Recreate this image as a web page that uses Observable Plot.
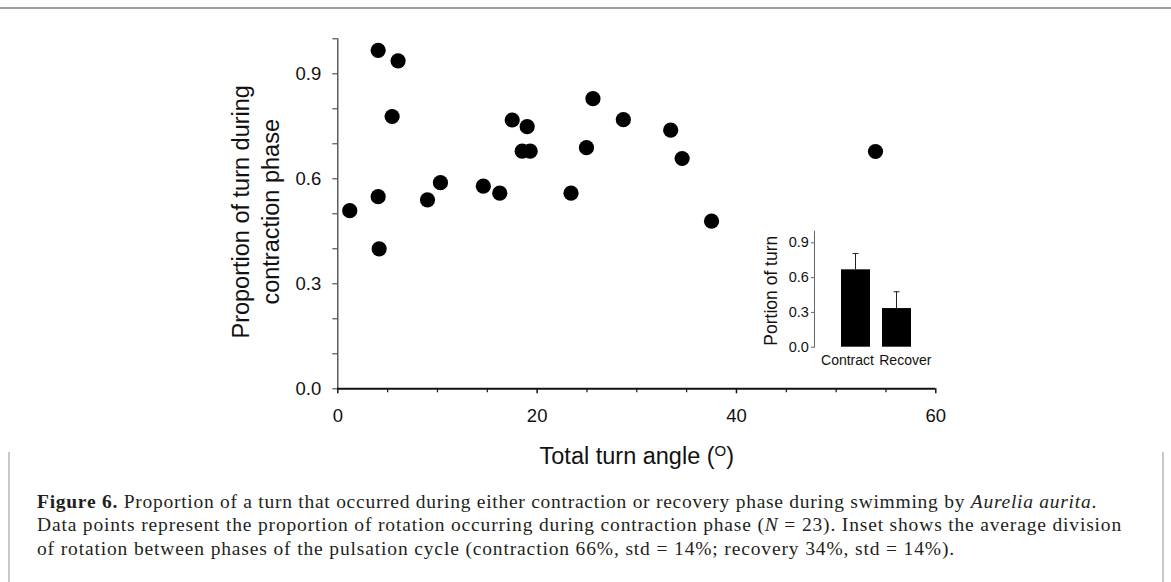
<!DOCTYPE html>
<html>
<head>
<meta charset="utf-8">
<script src="https://cdn.jsdelivr.net/npm/d3@7"></script>
<script src="https://cdn.jsdelivr.net/npm/@observablehq/plot@0.6"></script>
<style>
  html, body { margin: 0; padding: 0; background: #fff; width: 1171px; height: 582px; overflow: hidden; }
  #wrap { position: relative; width: 1171px; height: 582px; }
  #main { position: absolute; left: 0; top: 0; }
  #inset { position: absolute; left: 740px; top: 220px; }
  .rule-top { position: absolute; left: 0; top: 7px; width: 1171px; height: 2px; background: #9e9e9e; }
  .border-l { position: absolute; left: 8px; top: 452px; width: 2px; height: 130px; background: #c9c9c9; }
  .border-r { position: absolute; left: 1162px; top: 452px; width: 2px; height: 130px; background: #c9c9c9; }
  #caption { position: absolute; left: 37px; top: 490px; font-family: "Liberation Serif", "DejaVu Serif", serif;
             font-size: 19.5px; line-height: 23.3px; color: #231f20; }
  #caption .line { white-space: nowrap; }
  #caption .line span { white-space: nowrap; }
</style>
</head>
<body>
<div id="wrap">
  <div class="rule-top"></div>
  <div class="border-l"></div>
  <div class="border-r"></div>
  <div id="main"></div>
  <div id="inset"></div>
  <div id="caption">
    <div class="line"><span id="c1"><b>Figure 6.</b> Proportion of a turn that occurred during either contraction or recovery phase during swimming by <i>Aurelia aurita</i>.</span></div>
    <div class="line"><span id="c2">Data points represent the proportion of rotation occurring during contraction phase (<i>N</i> = 23). Inset shows the average division</span></div>
    <div class="line"><span id="c3">of rotation between phases of the pulsation cycle (contraction 66%, std = 14%; recovery 34%, std = 14%).</span></div>
  </div>
</div>
<script>
// ---- Main scatter data ----
const turnAngle = [1.2, 4.05, 4.05, 4.15, 5.45, 6.05, 9.0, 10.3, 14.6, 16.25, 17.5, 18.5, 19.0, 19.3, 23.4, 24.95, 25.6, 28.65, 33.4, 34.55, 37.5, 53.95];
const contractionProp = [0.509, 0.967, 0.549, 0.40, 0.778, 0.937, 0.54, 0.589, 0.579, 0.559, 0.768, 0.679, 0.749, 0.679, 0.559, 0.689, 0.829, 0.769, 0.739, 0.658, 0.479, 0.678];

const xTicks = [0, 20, 40, 60];
const xMinorTicks = [5, 10, 15, 25, 30, 35, 45, 50, 55];
const yTicks = [0, 0.3, 0.6, 0.9];
const yMinorTicks = [0.1, 0.2, 0.4, 0.5, 0.7, 0.8, 1.0];

const xTitle = "Total turn angle (O)";
const yTitle = "Proportion of turn during\ncontraction phase";

// ---- Inset data ----
const phases = ["Contract", "Recover"];
const phaseMean = [0.667, 0.333];
const phaseSD = [0.14, 0.145];
const insetYTicks = [0, 0.3, 0.6, 0.9];
const insetYLabel = "Portion of turn";

const points = turnAngle.map((a, i) => ({angle: a, prop: contractionProp[i]}));
const insetData = phases.map((p, i) => ({phase: p, mean: phaseMean[i], top: phaseMean[i] + phaseSD[i]}));

const fmt1 = d3.format(".1f");
const sans = "'Liberation Sans', Arial, sans-serif";

const main = Plot.plot({
  width: 1171,
  height: 480,
  marginLeft: 337.3,
  marginRight: 235.7,
  marginTop: 38.3,
  marginBottom: 91.7,
  x: {domain: [0, 60]},
  y: {domain: [0, 1]},
  style: {fontFamily: sans, fontSize: "18px", color: "#111", background: "transparent", overflow: "visible"},
  marks: [
    Plot.axisY({ticks: yTicks, tickFormat: fmt1, tickSize: 5, tickPadding: 11.5, fontSize: 18.5, label: null, stroke: "#333"}),
    Plot.axisY({ticks: yMinorTicks, tickFormat: () => "", tickSize: 5, label: null, stroke: "#333"}),
    Plot.axisX({ticks: xTicks, tickSize: 5, tickPadding: 15.5, fontSize: 18.5, label: null, stroke: "#111", strokeWidth: 1.5}),
    Plot.axisX({ticks: xMinorTicks, tickFormat: () => "", tickSize: 4, label: null, stroke: "#111", strokeWidth: 1.2}),
    Plot.ruleX([0], {stroke: "#444", strokeWidth: 1.3}),
    Plot.ruleY([0], {stroke: "#111", strokeWidth: 2}),
    Plot.dot(points, {x: "angle", y: "prop", r: 7.6, fill: "#000", stroke: null}),
    Plot.text([yTitle], {text: d => d, frameAnchor: "left", textAnchor: "middle", rotate: -90, dx: -83, dy: -2, fontSize: 23.5, lineHeight: 1.28, lineAnchor: "middle", fill: "#111"}),
    Plot.text([xTitle], {text: d => d, frameAnchor: "bottom", dy: 68, fontSize: 23.5, lineAnchor: "middle", fill: "#111"})
  ]
});
document.getElementById("main").appendChild(main);

// superscript O in the x title
d3.select(main).selectAll("text").filter(function() { return this.textContent === xTitle; }).each(function() {
  const t = d3.select(this);
  t.text(null);
  t.append("tspan").text("Total turn angle (");
  t.append("tspan").attr("font-size", "15px").attr("dy", "-8").text("O");
  t.append("tspan").attr("dy", "8").text(")");
});

const inset = Plot.plot({
  width: 200,
  height: 150,
  marginLeft: 74,
  marginRight: 0,
  marginTop: 10.7,
  marginBottom: 23.3,
  x: {type: "band", domain: phases, range: [88.7, 183.6], padding: 0.298},
  y: {domain: [0, 1]},
  style: {fontFamily: sans, fontSize: "14px", color: "#111", background: "transparent", overflow: "visible"},
  marks: [
    Plot.barY(insetData, {x: "phase", y: "mean", fill: "#000"}),
    Plot.barY(insetData, {x: "phase", y1: "mean", y2: "top", fill: "#222", insetLeft: 14, insetRight: 14}),
    Plot.tickY(insetData, {x: "phase", y: "top", stroke: "#222", strokeWidth: 1, insetLeft: 11.5, insetRight: 11.5}),
    Plot.frame({anchor: "left", stroke: "#666", strokeWidth: 1}),
    Plot.axisY({ticks: insetYTicks, tickFormat: fmt1, tickSize: 3, tickPadding: 2.7, fontSize: 14.5, label: null, stroke: "#666"}),
    Plot.axisX({ticks: ["Contract"], dx: -8.5, tickSize: 0, tickPadding: 8, fontSize: 14, label: null}),
    Plot.axisX({ticks: ["Recover"], dx: 8.3, tickSize: 0, tickPadding: 8, fontSize: 14, label: null}),
    Plot.text([insetYLabel], {text: d => d, frameAnchor: "left", textAnchor: "middle", rotate: -90, dx: -43, dy: 1.5, fontSize: 17.5, lineAnchor: "middle", fill: "#111"})
  ]
});
document.getElementById("inset").appendChild(inset);

// fit caption lines to their measured widths in the reference
const capLeft = 37;
const capRight = {c1: 1097, c2: 1122, c3: 955};
for (const id of Object.keys(capRight)) {
  const el = document.getElementById(id);
  const w = el.getBoundingClientRect().width;
  const n = el.textContent.length;
  const target = capRight[id] - capLeft;
  el.style.letterSpacing = ((target - w) / n) + "px";
}
</script>
</body>
</html>
